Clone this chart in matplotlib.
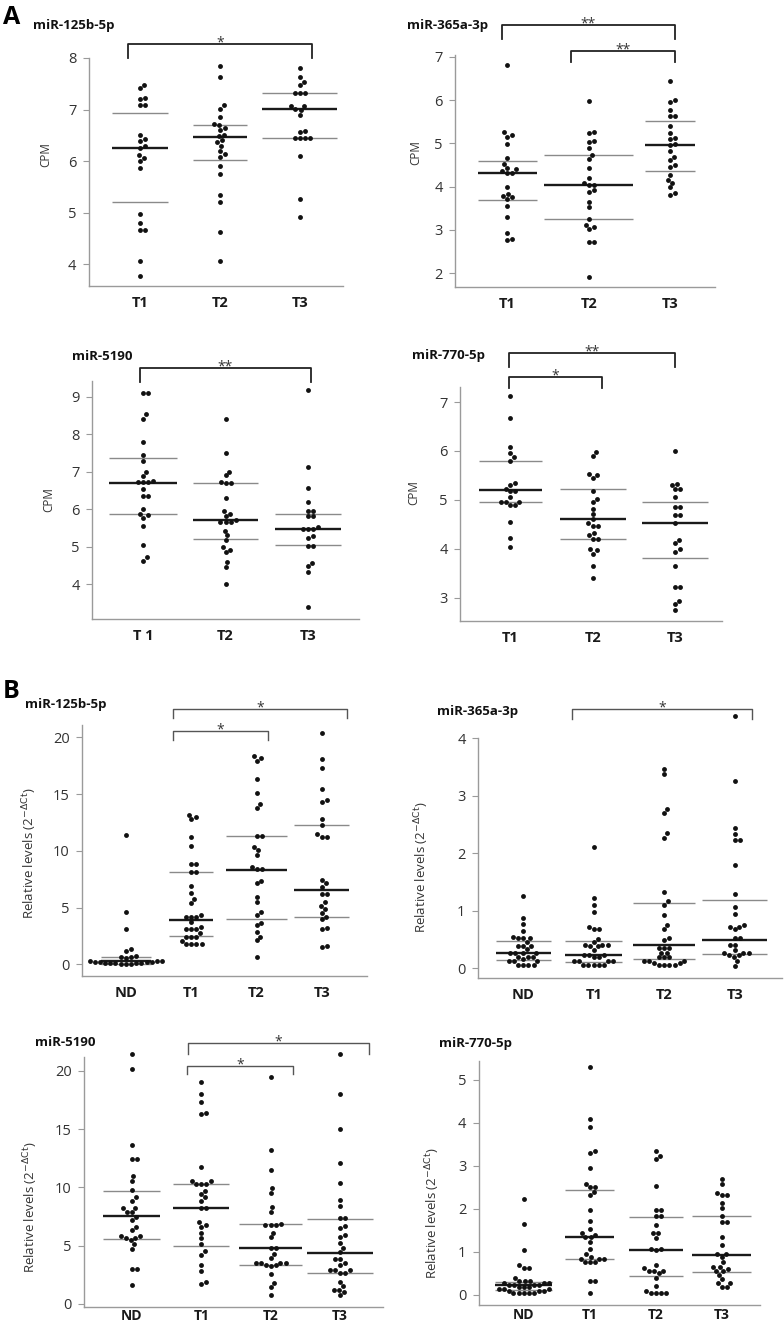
import numpy as np
import matplotlib.pyplot as plt
from matplotlib.lines import Line2D

plt.rcParams['font.family'] = ['Open Sans', 'DejaVu Sans']
plt.rcParams['mathtext.fontset'] = 'dejavusans'

W, H = 784, 1331

# ---- categories ----
cats_a = ['T1', 'T2', 'T3']
cats_a3 = ['T 1', 'T2', 'T3']
cats_b = ['ND', 'T1', 'T2', 'T3']

# ---- A: miR-125b-5p (CPM) ----
a125_t1 = [7.48, 7.41, 7.22, 7.21, 7.09, 7.08, 6.50, 6.43, 6.39, 6.30, 6.26, 6.11, 6.07, 6.00, 5.86,
           4.98, 4.80, 4.66, 4.66, 4.07, 3.77]
a125_t2 = [7.84, 7.64, 7.08, 7.02, 6.86, 6.72, 6.70, 6.65, 6.60, 6.50, 6.49, 6.41, 6.37, 6.30, 6.20,
           6.13, 6.08, 5.91, 5.76, 5.34, 5.20, 4.62, 4.07]
a125_t3 = [7.80, 7.64, 7.53, 7.47, 7.32, 7.32, 7.32, 7.06, 7.06, 7.01, 6.99, 6.89, 6.59, 6.56, 6.44,
           6.44, 6.44, 6.44, 6.10, 5.26, 4.91]
a125_mean = [6.26, 6.46, 7.01]
a125_sd_hi = [6.93, 6.71, 7.32]
a125_sd_lo = [5.21, 6.03, 6.44]

# ---- A: miR-365a-3p ----
a365_t1 = [6.82, 5.25, 5.19, 5.15, 4.98, 4.65, 4.52, 4.44, 4.40, 4.35, 4.32, 4.32, 3.98, 3.83, 3.78,
           3.75, 3.71, 3.56, 3.29, 2.92, 2.78, 2.77]
a365_t2 = [5.98, 5.27, 5.23, 5.06, 5.04, 4.90, 4.73, 4.63, 4.42, 4.19, 4.08, 4.04, 4.04, 3.92, 3.88,
           3.65, 3.52, 3.25, 3.12, 3.06, 3.02, 2.73, 2.71, 1.92]
a365_t3 = [6.44, 6.00, 5.96, 5.77, 5.63, 5.62, 5.41, 5.23, 5.13, 5.10, 4.98, 4.96, 4.82, 4.69, 4.62,
           4.50, 4.46, 4.27, 4.15, 4.09, 3.98, 3.86, 3.81]
a365_mean = [4.31, 4.04, 4.96]
a365_sd_hi = [4.58, 4.74, 5.52]
a365_sd_lo = [3.69, 3.25, 4.35]

# ---- A: miR-5190 ----
a5190_t1 = [9.11, 9.11, 8.53, 8.42, 7.80, 7.45, 7.29, 7.00, 6.89, 6.75, 6.72, 6.72, 6.72, 6.53, 6.36,
            6.36, 6.00, 5.89, 5.85, 5.78, 5.55, 5.05, 4.72, 4.63]
a5190_t2 = [8.42, 7.49, 7.00, 6.91, 6.74, 6.69, 6.69, 6.29, 5.95, 5.87, 5.82, 5.71, 5.67, 5.67, 5.67,
            5.43, 5.31, 5.18, 4.99, 4.91, 4.87, 4.60, 4.47, 4.01]
a5190_t3 = [9.18, 7.13, 6.58, 6.20, 5.96, 5.96, 5.82, 5.82, 5.52, 5.47, 5.47, 5.47, 5.29, 5.23, 5.03,
            5.03, 4.58, 4.49, 4.32, 3.39]
a5190_mean = [6.69, 5.73, 5.47]
a5190_sd_hi = [7.37, 6.71, 5.89]
a5190_sd_lo = [5.87, 5.20, 5.05]

# ---- A: miR-770-5p ----
a770_t1 = [7.12, 6.67, 6.08, 5.96, 5.88, 5.80, 5.35, 5.30, 5.23, 5.18, 5.18, 5.06, 4.96, 4.96, 4.96,
           4.89, 4.89, 4.54, 4.21, 4.04]
a770_t2 = [5.97, 5.89, 5.52, 5.50, 5.44, 5.18, 5.01, 4.96, 4.82, 4.71, 4.60, 4.52, 4.46, 4.46, 4.33,
           4.28, 4.20, 4.20, 3.99, 3.97, 3.90, 3.65, 3.41]
a770_t3 = [6.01, 5.33, 5.31, 5.23, 5.23, 5.05, 4.86, 4.86, 4.70, 4.70, 4.53, 4.18, 4.12, 3.99, 3.94,
           3.65, 3.22, 3.22, 2.92, 2.86, 2.75]
a770_mean = [5.20, 4.61, 4.53]
a770_sd_hi = [5.80, 5.23, 4.95]
a770_sd_lo = [4.95, 4.20, 3.80]

# ---- B: miR-125b-5p (2^-dCt) ----
b125_nd = [11.4, 4.58, 3.11, 1.35, 1.17, 0.73, 0.62, 0.62, 0.55, 0.30, 0.30, 0.28, 0.22, 0.20,
           0.18, 0.16, 0.14, 0.12, 0.10, 0.10, 0.08, 0.06, 0.05, 0.04]
b125_t1 = [13.2, 13.0, 12.8, 11.2, 10.45, 8.84, 8.84, 8.1, 8.1, 6.9, 6.31, 5.76, 5.37, 4.35, 4.2, 4.2,
           4.2, 3.7, 3.32, 3.08, 3.08, 3.08, 2.73, 2.44, 2.44, 2.44, 2.09, 1.79, 1.79, 1.79, 1.79]
b125_t2 = [18.35, 18.15, 17.94, 16.33, 15.07, 14.1, 13.74, 11.3, 11.3, 10.37, 10.07, 9.63, 8.6, 8.4, 8.4,
           7.34, 7.2, 5.95, 5.46, 4.58, 4.35, 3.67, 3.47, 2.82, 2.44, 2.14, 0.68]
b125_t3 = [20.35, 18.06, 17.33, 15.45, 14.48, 14.33, 12.78, 12.28, 11.45, 11.25, 11.25, 7.43, 7.14, 6.84,
           6.2, 6.2, 5.52, 5.17, 4.85, 4.49, 4.2, 3.96, 3.23, 3.11, 1.64, 1.56]
b125_mean = [0.30, 3.91, 8.31, 6.55]
b125_sd_hi = [0.65, 8.1, 11.3, 12.28]
b125_sd_lo = [0.05, 2.53, 3.99, 4.2]

# ---- B: miR-365a-3p ----
b365_nd = [1.25, 0.88, 0.77, 0.65, 0.55, 0.52, 0.52, 0.52, 0.45, 0.39, 0.39, 0.39, 0.33, 0.27, 0.27,
           0.27, 0.27, 0.20, 0.20, 0.20, 0.16, 0.12, 0.12, 0.12, 0.06, 0.06, 0.06, 0.06]
b365_t1 = [2.1, 1.22, 1.1, 0.97, 0.72, 0.68, 0.68, 0.5, 0.46, 0.41, 0.41, 0.41, 0.38, 0.38, 0.32, 0.23,
           0.23, 0.23, 0.19, 0.19, 0.12, 0.12, 0.12, 0.12, 0.06, 0.06, 0.06, 0.06, 0.06]
b365_t2 = [3.47, 3.37, 2.77, 2.7, 2.35, 2.27, 1.33, 1.16, 1.1, 0.92, 0.75, 0.68, 0.52, 0.49, 0.35, 0.35,
           0.35, 0.27, 0.27, 0.19, 0.19, 0.19, 0.13, 0.13, 0.13, 0.09, 0.09, 0.06, 0.06, 0.06, 0.06]
b365_t3 = [4.38, 3.26, 2.43, 2.34, 2.22, 2.22, 1.8, 1.29, 1.07, 0.94, 0.75, 0.72, 0.72, 0.68, 0.52, 0.52,
           0.41, 0.41, 0.32, 0.26, 0.26, 0.26, 0.23, 0.23, 0.19, 0.12, 0.04]
b365_mean = [0.26, 0.23, 0.41, 0.49]
b365_sd_hi = [0.48, 0.475, 1.14, 1.19]
b365_sd_lo = [0.145, 0.116, 0.157, 0.243]

# ---- B: miR-5190 ----
b5190_nd = [21.43, 20.17, 13.62, 12.42, 12.42, 10.96, 10.53, 9.78, 9.13, 8.85, 8.2, 8.2, 7.87, 7.87,
            7.44, 7.16, 6.6, 6.32, 5.81, 5.81, 5.67, 5.67, 5.48, 5.11, 4.69, 3.0, 3.0, 1.6]
b5190_t1 = [19.04, 17.98, 17.33, 16.43, 16.29, 11.74, 10.53, 10.53, 10.31, 10.31, 10.31, 9.69, 9.41,
            9.13, 8.85, 8.2, 8.2, 7.02, 6.74, 6.6, 6.1, 5.62, 5.11, 4.49, 4.21, 3.29, 2.81, 1.88, 1.69]
b5190_t2 = [19.47, 13.2, 11.52, 9.97, 9.55, 8.29, 7.87, 6.83, 6.74, 6.74, 6.74, 6.1, 5.7, 4.78, 4.78,
            4.27, 3.93, 3.51, 3.51, 3.51, 3.51, 3.37, 3.37, 3.23, 2.53, 1.77, 1.4, 0.76]
b5190_t3 = [21.49, 18.06, 15.03, 12.08, 10.34, 8.9, 8.43, 7.36, 7.36, 6.66, 6.52, 5.9, 5.76, 5.25, 4.78,
            4.41, 3.88, 3.88, 3.51, 3.29, 2.89, 2.89, 2.89, 2.67, 2.67, 1.88, 1.49, 1.21, 1.21, 1.04, 0.76]
b5190_mean = [7.5, 8.23, 4.78, 4.35]
b5190_sd_hi = [9.69, 10.31, 6.83, 7.3]
b5190_sd_lo = [5.56, 4.92, 3.37, 2.67]

# ---- B: miR-770-5p ----
b770_nd = [2.23, 1.64, 1.03, 0.69, 0.63, 0.63, 0.38, 0.31, 0.31, 0.31, 0.27, 0.27, 0.27, 0.23, 0.23,
           0.23, 0.23, 0.19, 0.19, 0.19, 0.14, 0.14, 0.14, 0.09, 0.09, 0.09, 0.04, 0.04, 0.04, 0.04, 0.04]
b770_t1 = [5.31, 4.1, 3.91, 3.34, 3.3, 2.95, 2.58, 2.5, 2.5, 2.38, 2.31, 1.98, 1.72, 1.54, 1.44, 1.39,
           1.34, 1.34, 1.22, 1.07, 0.95, 0.88, 0.84, 0.84, 0.84, 0.76, 0.76, 0.76, 0.32, 0.32, 0.04]
b770_t2 = [3.34, 3.22, 3.15, 2.54, 1.98, 1.98, 1.83, 1.83, 1.62, 1.43, 1.43, 1.32, 1.07, 1.07, 1.03, 0.7,
           0.61, 0.55, 0.55, 0.55, 0.5, 0.4, 0.21, 0.09, 0.04, 0.04, 0.04, 0.04]
b770_t3 = [2.69, 2.57, 2.37, 2.33, 2.33, 2.14, 2.02, 1.83, 1.69, 1.69, 1.34, 1.15, 0.95, 0.95, 0.88, 0.75,
           0.65, 0.65, 0.59, 0.55, 0.55, 0.46, 0.36, 0.28, 0.28, 0.19, 0.19]
b770_mean = [0.23, 1.35, 1.05, 0.92]
b770_sd_hi = [0.29, 2.44, 1.82, 1.83]
b770_sd_lo = [0.11, 0.84, 0.44, 0.53]

ylab_a = 'CPM'
ylab_b = r'Relative levels (2$^{\mathrm{-\Delta Ct}}$)'

fig = plt.figure(figsize=(W / 100, H / 100), dpi=100)


def swarm(ax, pos, vals, d=5.2):
    # простой beeswarm в пикселях
    vals = np.asarray(vals, float)
    disp = ax.transData.transform(np.column_stack([np.full(len(vals), pos), vals]))
    x0 = disp[0, 0]
    ys = disp[:, 1]
    xs = np.zeros(len(vals))
    done = []
    for i in np.argsort(ys):
        cands = [0.0]
        for j in done:
            dy = ys[i] - ys[j]
            if abs(dy) < d:
                dx = np.sqrt(d * d - dy * dy)
                cands += [xs[j] + dx, xs[j] - dx]
        cands.sort(key=abs)
        for c in cands:
            if all((c - xs[j]) ** 2 + (ys[i] - ys[j]) ** 2 >= d * d - 1e-6 for j in done):
                xs[i] = c
                break
        done.append(i)
    back = ax.transData.inverted().transform(np.column_stack([x0 + xs, ys]))
    return back[:, 0]


def bracket(x1, x2, y, leg, label, color, lw):
    fig.add_artist(Line2D([x1 / W, x1 / W, x2 / W, x2 / W],
                          [1 - leg / H, 1 - y / H, 1 - y / H, 1 - leg / H],
                          color=color, lw=lw, transform=fig.transFigure))
    fig.text((x1 + x2) / 2 / W, 1 - (y + 2) / H, label, ha='center', va='baseline',
             fontsize=10, color='#333333')


def panel(box, xlim, ylim, yticks, cats, groups, means, sd_hi, sd_lo, halfw,
          ylabel, ylab_pos, title, title_pos, ylabsize, xpad=7, xsize=10.5):
    l, t, r, b = box
    ax = fig.add_axes([l / W, 1 - b / H, (r - l) / W, (b - t) / H])
    ax.set_xlim(xlim)
    ax.set_ylim(ylim)
    for s in ['top', 'right']:
        ax.spines[s].set_visible(False)
    for s in ['left', 'bottom']:
        ax.spines[s].set_color('#9a9a9a')
        ax.spines[s].set_linewidth(1.0)
    pos = np.arange(1, len(cats) + 1)
    ax.set_yticks(yticks)
    ax.set_yticklabels([str(v) for v in yticks])
    ax.tick_params(axis='y', length=4, color='#9a9a9a', labelsize=10.5, labelcolor='#333333', pad=5)
    ax.set_xticks(pos)
    ax.set_xticklabels(cats, fontweight='bold', fontsize=xsize, color='#1a1a1a')
    ax.tick_params(axis='x', length=0, pad=xpad)

    for p, hw, m, hi, lo in zip(pos, halfw, means, sd_hi, sd_lo):
        ax.hlines([hi, lo], p - hw, p + hw, color='#8a8a8a', lw=1.0, zorder=1)
        ax.hlines(m, p - hw, p + hw, color='#1a1a1a', lw=1.7, zorder=3)
    for p, vals in zip(pos, groups):
        xs = swarm(ax, p, vals)
        ax.plot(xs, vals, 'o', ms=3.5, color='#111111', mec='none', zorder=4, clip_on=False)

    ax.set_ylabel(ylabel, fontsize=ylabsize, color='#333333')
    ax.yaxis.set_label_coords((ylab_pos[0] - l) / (r - l), (b - ylab_pos[1]) / (b - t))
    fig.text(title_pos[0] / W, 1 - title_pos[1] / H, title, fontweight='bold', fontsize=9.5,
             va='center', ha='left', color='#111111')
    return ax


# ===== A =====
fig.text(3 / W, 1 - 18 / H, 'A', fontsize=18, fontweight='bold', va='center', ha='left')

panel((89, 58, 343, 286), (0.36, 3.54), (3.58, 8.0), [4, 5, 6, 7, 8], cats_a,
      [a125_t1, a125_t2, a125_t3], a125_mean, a125_sd_hi, a125_sd_lo, [0.35, 0.34, 0.47],
      ylab_a, (52, 155), 'miR-125b-5p', (33, 25), 8.5)
bracket(128, 312, 44, 58, '*', '#222222', 1.3)

panel((455, 55, 715, 287), (0.36, 3.55), (1.68, 7.04), [2, 3, 4, 5, 6, 7], cats_a,
      [a365_t1, a365_t2, a365_t3], a365_mean, a365_sd_hi, a365_sd_lo, [0.36, 0.55, 0.31],
      ylab_a, (422, 153), 'miR-365a-3p', (407, 25), 8.5)
bracket(502, 675, 25, 39, '**', '#222222', 1.3)
bracket(571, 675, 51, 62, '**', '#222222', 1.3)

panel((92, 381, 359, 619), (0.38, 3.62), (3.08, 9.42), [4, 5, 6, 7, 8, 9], cats_a3,
      [a5190_t1, a5190_t2, a5190_t3], a5190_mean, a5190_sd_hi, a5190_sd_lo, [0.41, 0.40, 0.40],
      ylab_a, (55, 500), 'miR-5190', (72, 357), 8.5)
bracket(140, 311, 368, 382, '**', '#222222', 1.3)

panel((460, 387, 722, 621), (0.39, 3.57), (2.52, 7.31), [3, 4, 5, 6, 7], cats_a,
      [a770_t1, a770_t2, a770_t3], a770_mean, a770_sd_hi, a770_sd_lo, [0.38, 0.40, 0.40],
      ylab_a, (420, 493), 'miR-770-5p', (412, 356), 8.5)
bracket(509, 675, 353, 367, '**', '#222222', 1.3)
bracket(509, 602, 377, 388, '*', '#222222', 1.3)

# ===== B =====
fig.text(3 / W, 1 - 692 / H, 'B', fontsize=18, fontweight='bold', va='center', ha='left')

panel((82, 725, 367, 976), (0.33, 4.69), (-1.03, 21.09), [0, 5, 10, 15, 20], cats_b,
      [b125_nd, b125_t1, b125_t2, b125_t3], b125_mean, b125_sd_hi, b125_sd_lo,
      [0.38, 0.34, 0.47, 0.42], ylab_b, (39, 853), 'miR-125b-5p', (25, 705), 9.5)
bracket(173, 347, 709, 718, '*', '#555555', 1.0)
bracket(173, 268, 731, 740, '*', '#555555', 1.0)

panel((478, 738, 782, 978), (0.36, 4.67), (-0.17, 4.0), [0, 1, 2, 3, 4], cats_b,
      [b365_nd, b365_t1, b365_t2, b365_t3], b365_mean, b365_sd_hi, b365_sd_lo,
      [0.39, 0.40, 0.44, 0.46], ylab_b, (431, 867), 'miR-365a-3p', (437, 711), 9.5)
bracket(572, 752, 709, 719, '*', '#555555', 1.0)

panel((84, 1057, 383, 1307), (0.31, 4.62), (-0.28, 21.2), [0, 5, 10, 15, 20], cats_b,
      [b5190_nd, b5190_t1, b5190_t2, b5190_t3], b5190_mean, b5190_sd_hi, b5190_sd_lo,
      [0.41, 0.40, 0.45, 0.48], ylab_b, (40, 1207), 'miR-5190', (35, 1043), 9.5,
      xpad=1.5, xsize=10)
bracket(188, 369, 1043, 1054, '*', '#555555', 1.0)
bracket(187, 293, 1066, 1074, '*', '#555555', 1.0)

panel((479, 1061, 760, 1305), (0.32, 4.58), (-0.24, 5.44), [0, 1, 2, 3, 4, 5], cats_b,
      [b770_nd, b770_t1, b770_t2, b770_t3], b770_mean, b770_sd_hi, b770_sd_lo,
      [0.43, 0.37, 0.41, 0.45], ylab_b, (442, 1213), 'miR-770-5p', (439, 1043), 9.5,
      xpad=2.5, xsize=10)

fig.savefig('out.png', dpi=100, facecolor='white')
plt.close(fig)
print('saved out.png')
